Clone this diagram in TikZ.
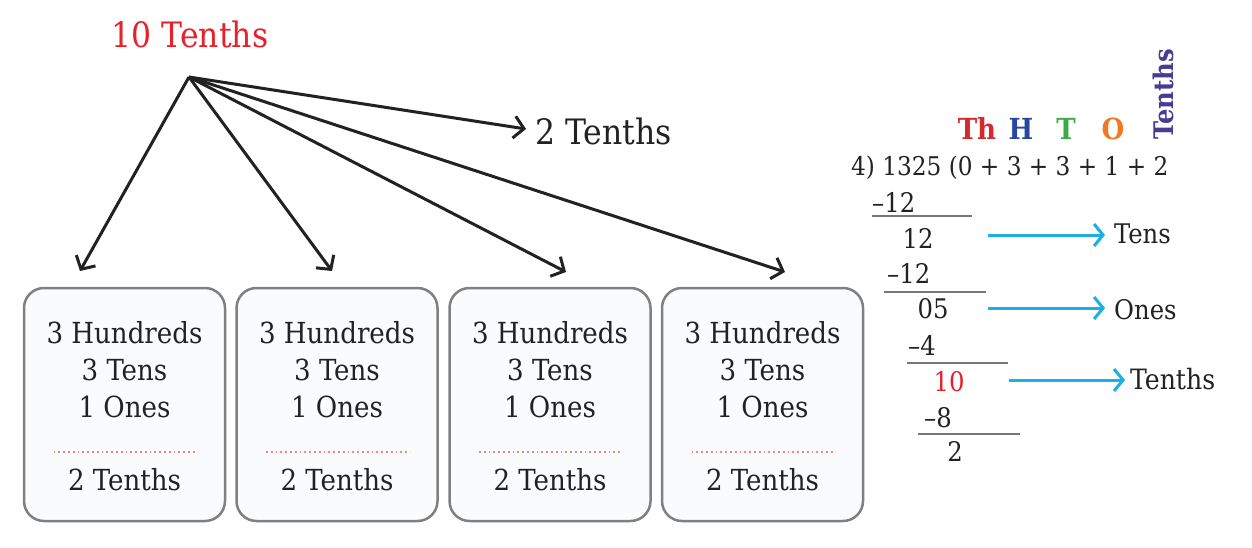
\documentclass[tikz,border=0pt]{standalone}
\usepackage{fontspec}
\setmainfont{DejaVu Serif Condensed}
\usetikzlibrary{arrows.meta}
\definecolor{ink}{HTML}{222222}
\definecolor{boxgray}{HTML}{808080}
\definecolor{boxfill}{HTML}{FAFBFC}
\definecolor{tred}{HTML}{E8202A}
\definecolor{thred}{HTML}{D42A2F}
\definecolor{hblue}{HTML}{2747A0}
\definecolor{tgreen}{HTML}{3DAA48}
\definecolor{oorange}{HTML}{F07A22}
\definecolor{tpurple}{HTML}{4B3A95}
\definecolor{cyanarrow}{HTML}{1AAFE6}
\definecolor{dotred}{HTML}{F08878}
\definecolor{rulegray}{HTML}{777777}
\tikzset{
  txt/.style={inner sep=0pt, anchor=base, font=\fontsize{29}{33}\selectfont, text=ink},
  bigtxt/.style={inner sep=0pt, anchor=base, font=\fontsize{35}{40}\selectfont, text=ink},
  divtxt/.style={inner sep=0pt, anchor=base, font=\fontsize{27}{32}\selectfont, text=ink},
  hdr/.style={inner sep=0pt, anchor=base, font=\fontsize{29}{34}\selectfont\bfseries},
  card/.style={draw=boxgray, fill=boxfill, line width=2.5pt, rounded corners=20pt},
  blackarrow/.style={draw=ink, line width=3pt, -{Straight Barb[length=10pt,width=22pt,line width=3pt]}},
  bluearrow/.style={draw=cyanarrow, line width=3pt, -{Straight Barb[length=9pt,width=22pt,line width=3pt]}},
  divrule/.style={draw=rulegray, line width=2.8pt},
  dotsep/.style={draw=dotred, line width=1.8pt, dash pattern=on 1.8pt off 3pt}
}
\begin{document}
\begin{tikzpicture}[x=1pt,y=-1pt]
\useasboundingbox[fill=white] (0,0) rectangle (1252,547);

% top label and apex
\node[bigtxt, text=tred] (ten) at (190,47) {10 Tenths};
\coordinate (apex) at (189,77);
\coordinate (t1) at (80,271);
\coordinate (t2) at (332,271);
\coordinate (t3) at (566,272);
\coordinate (t4) at (785,272);
\coordinate (t5) at (526,129);
\node[bigtxt, anchor=base west] (twoT) at (535,144) {2 Tenths};

\draw[blackarrow] (apex) -- (t1);
\draw[blackarrow] (apex) -- (t2);
\draw[blackarrow] (apex) -- (t3);
\draw[blackarrow] (apex) -- (t4);
\draw[blackarrow] (apex) -- (t5);

% cards
\foreach \i/\cx in {1/124.5, 2/337, 3/550, 4/762.5}{
  \draw[card] (\cx-100.5,288) rectangle (\cx+100.5,521);
  \node[txt] (h\i) at (\cx,343) {3 Hundreds};
  \node[txt] (te\i) at (\cx,380) {3 Tens};
  \node[txt] (o\i) at (\cx,417) {1 Ones};
  \draw[dotsep] (\cx-71,452) -- (\cx+73,452);
  \node[txt] (tt\i) at (\cx,490) {2 Tenths};
}

% place-value headers
\node[hdr, text=thred] (Th) at (977,139) {Th};
\node[hdr, text=hblue] (H) at (1021,139) {H};
\node[hdr, text=tgreen] (T) at (1066,139) {T};
\node[hdr, text=oorange] (O) at (1113,139) {O};
\node[hdr, text=tpurple, rotate=90, anchor=base west, font=\fontsize{27}{32}\selectfont\bfseries] (TenthsV) at (1173,140) {Tenths};

% division
\node[divtxt, anchor=base west, font=\fontsize{25.8}{31}\selectfont] (eq) at (851,175) {4) 1325 (0 + 3 + 3 + 1 + 2};
\node[divtxt, anchor=base west] (m1) at (872,212) {–12};
\draw[divrule] (872,216) -- (972,216);
\node[divtxt] (r1) at (918,248) {12};
\node[divtxt, anchor=base west] (m2) at (887,283) {–12};
\draw[divrule] (884,292) -- (986,292);
\node[divtxt] (r2) at (933,318) {05};
\node[divtxt, anchor=base west] (m3) at (908,355) {–4};
\draw[divrule] (907,363) -- (1008,363);
\node[divtxt, text=tred] (r3) at (949,391) {10};
\node[divtxt, anchor=base west] (m4) at (924,427) {–8};
\draw[divrule] (918,434) -- (1020,434);
\node[divtxt] (r4) at (955,461) {2};

\node[divtxt, anchor=base west] (lTens) at (1114,243) {Tens};
\node[divtxt, anchor=base west] (lOnes) at (1114,319) {Ones};
\node[divtxt, anchor=base west, font=\fontsize{28}{32}\selectfont] (lTenths) at (1130,389) {Tenths};

\coordinate (a1s) at (988,235);
\coordinate (a2s) at (988,308);
\coordinate (a3s) at (1009,380);
\coordinate (a1e) at (1105,235);
\coordinate (a2e) at (1105,308);
\coordinate (a3e) at (1125,380);
\draw[bluearrow] (a1s) -- (a1e);
\draw[bluearrow] (a2s) -- (a2e);
\draw[bluearrow] (a3s) -- (a3e);
\end{tikzpicture}
\end{document}
